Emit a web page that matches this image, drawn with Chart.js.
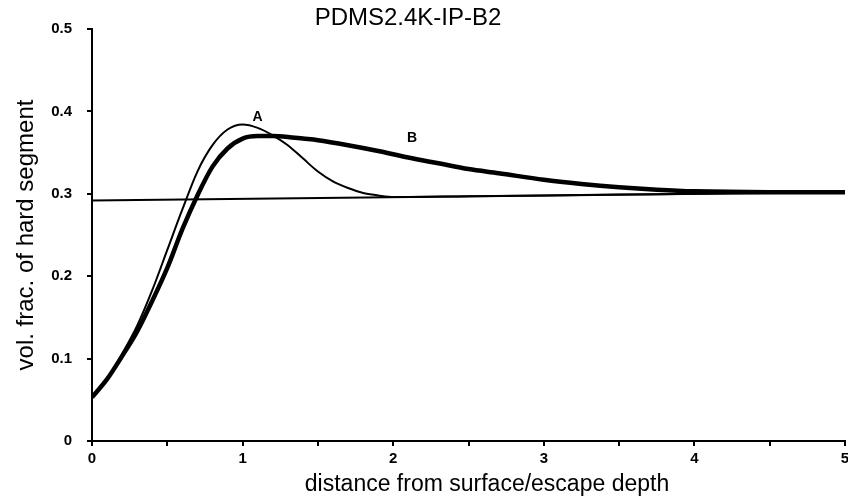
<!DOCTYPE html>
<html>
<head>
<meta charset="utf-8">
<title>PDMS2.4K-IP-B2</title>
<script src="https://cdn.jsdelivr.net/npm/chart.js@4"></script>
<style>
  body { margin: 0; background: #fff; }
  canvas { display: block; }
</style>
</head>
<body>
<canvas id="profileChart" width="848" height="503"></canvas>
<script>
// values (x = distance / escape depth, y = vol. fraction)
const xA = [0, 0.1, 0.2, 0.3, 0.4, 0.5, 0.6, 0.7, 0.8, 0.9, 1.0, 1.1, 1.2, 1.3, 1.4, 1.5, 1.6, 1.7, 1.8, 1.9, 2.0, 2.5, 3.0, 3.5, 4.0, 4.5, 5.0];
const yA = [0.053, 0.076, 0.106, 0.140, 0.183, 0.232, 0.281, 0.327, 0.359, 0.378, 0.384, 0.380, 0.371, 0.359, 0.343, 0.327, 0.315, 0.307, 0.301, 0.298, 0.296, 0.297, 0.298, 0.299, 0.300, 0.301, 0.302];

const xB = [0, 0.1, 0.2, 0.3, 0.4, 0.5, 0.6, 0.7, 0.8, 0.9, 1.0, 1.1, 1.2, 1.3, 1.4, 1.5, 1.7, 1.9, 2.1, 2.3, 2.5, 2.7, 3.0, 3.25, 3.5, 3.75, 4.0, 4.5, 5.0];
const yB = [0.053, 0.075, 0.103, 0.133, 0.170, 0.210, 0.257, 0.298, 0.333, 0.355, 0.367, 0.370, 0.370, 0.369, 0.367, 0.365, 0.359, 0.352, 0.344, 0.337, 0.330, 0.325, 0.317, 0.312, 0.308, 0.305, 0.303, 0.302, 0.302];

// bulk level line
const xRef = [0, 5];
const yRef = [0.292, 0.302];

const curveLabels = [
    { text: 'A', x: 1.10, y: 0.393 },
    { text: 'B', x: 2.125, y: 0.367 }
];

const chartTitle = 'PDMS2.4K-IP-B2';
const xAxisTitle = 'distance from surface/escape depth';

const FONT = '"Liberation Sans", Arial, Helvetica, sans-serif';

function toPoints(xs, ys) {
    return xs.map((x, i) => ({ x: x, y: ys[i] }));
}

// title, x axis caption and the letters next to the curves
const textPlugin = {
    id: 'extraText',
    afterDraw(chart) {
        const ctx = chart.ctx;
        const xs = chart.scales.x;
        const ys = chart.scales.y;
        ctx.save();
        ctx.fillStyle = '#000';
        ctx.textAlign = 'center';
        ctx.textBaseline = 'middle';

        ctx.font = 'bold 14px ' + FONT;
        curveLabels.forEach(l => {
            ctx.fillText(l.text, xs.getPixelForValue(l.x), ys.getPixelForValue(l.y));
        });

        ctx.font = '24px ' + FONT;
        ctx.fillText(chartTitle, 408, 18);

        ctx.font = '23px ' + FONT;
        ctx.fillText(xAxisTitle, 487, 485);
        ctx.restore();
    }
};

const ctx = document.getElementById('profileChart').getContext('2d');

new Chart(ctx, {
    type: 'line',
    data: {
        datasets: [
            {
                label: 'bulk',
                data: toPoints(xRef, yRef),
                borderColor: '#000',
                borderWidth: 2,
                pointRadius: 0,
                tension: 0
            },
            {
                label: 'B',
                data: toPoints(xB, yB),
                borderColor: '#000',
                borderWidth: 4.5,
                pointRadius: 0,
                cubicInterpolationMode: 'monotone'
            },
            {
                label: 'A',
                data: toPoints(xA, yA),
                borderColor: '#000',
                borderWidth: 2,
                pointRadius: 0,
                cubicInterpolationMode: 'monotone'
            }
        ]
    },
    options: {
        responsive: false,
        animation: false,
        devicePixelRatio: 1,
        layout: { padding: { left: 0, right: 0, top: 29, bottom: 0 } },
        plugins: {
            legend: { display: false },
            tooltip: { enabled: false },
            title: { display: false }
        },
        scales: {
            x: {
                type: 'linear',
                min: 0,
                max: 5,
                ticks: {
                    stepSize: 0.5,
                    autoSkip: false,
                    maxRotation: 0,
                    padding: 4,
                    color: '#000',
                    font: { family: FONT, size: 15, weight: 'bold' },
                    callback: v => Number.isInteger(v) ? String(v) : ''
                },
                grid: { drawOnChartArea: false, tickLength: 5, color: '#000', lineWidth: 2 },
                border: { color: '#000', width: 2 },
                afterFit(scale) {
                    scale.height = 62;
                    scale.paddingRight = 3;
                }
            },
            y: {
                min: 0,
                max: 0.5,
                ticks: {
                    stepSize: 0.1,
                    padding: 15,
                    color: '#000',
                    font: { family: FONT, size: 15, weight: 'bold' }
                },
                grid: { drawOnChartArea: false, tickLength: 5, color: '#000', lineWidth: 2 },
                border: { color: '#000', width: 2 },
                title: {
                    display: true,
                    text: 'vol. frac. of hard segment',
                    color: '#000',
                    font: { family: FONT, size: 24 },
                    padding: { top: 12, bottom: 0 }
                },
                afterFit(scale) { scale.width = 92; }
            }
        }
    },
    plugins: [textPlugin]
});
</script>
</body>
</html>
